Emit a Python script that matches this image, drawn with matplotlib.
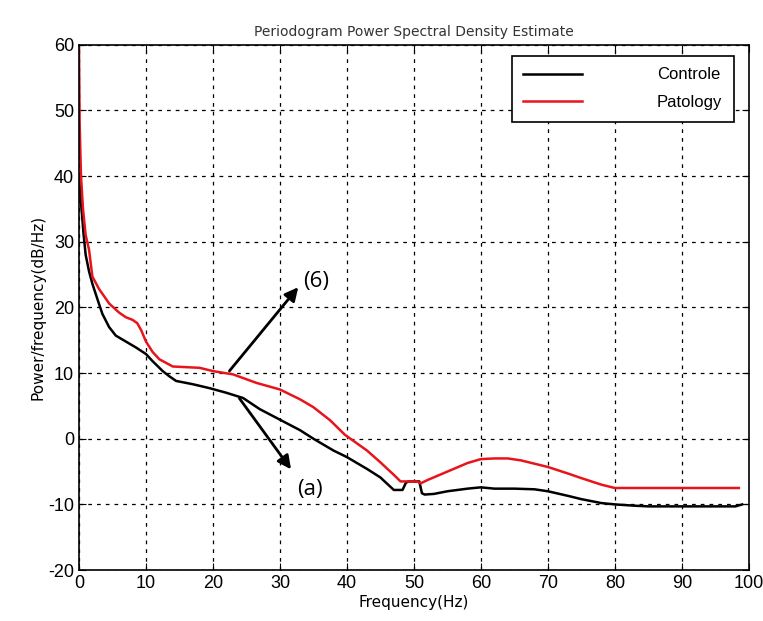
import numpy as np
import matplotlib
matplotlib.use("Agg")

import matplotlib.pyplot as plt

plt.rcParams['axes.unicode_minus'] = False

# Controle (black) curve
freq_ctrl = [0, 0.3, 0.7, 1, 1.5, 2, 3, 3.5, 4.5, 5.5, 7, 8.5, 10, 11, 12.5,
             13.5, 14.5, 17, 19.5, 22, 24.5, 27, 30, 33, 35, 38, 40, 43, 45,
             47, 48.3, 48.8, 49.2, 50.8, 51.2, 51.6, 53, 55, 58, 60, 62, 65,
             68, 70, 73, 75, 78, 80, 83, 85, 90, 95, 98, 99]
psd_ctrl = [40, 36, 31, 28, 25.5, 23.6, 20.5, 19, 17, 15.7, 14.8, 13.9, 12.9,
            11.8, 10.3, 9.5, 8.8, 8.3, 7.7, 7, 6.2, 4.5, 2.9, 1.3, 0, -1.8,
            -2.8, -4.6, -5.9, -7.8, -7.8, -6.7, -6.5, -6.5, -8.3, -8.5, -8.4,
            -8, -7.6, -7.4, -7.6, -7.6, -7.7, -8, -8.7, -9.2, -9.8, -10,
            -10.2, -10.3, -10.3, -10.3, -10.3, -10]

# Patology (red) curve
freq_pat = [0, 0.1, 0.3, 0.6, 1, 1.5, 2, 3, 4.5, 6, 7, 8, 8.7, 9.3, 10, 11,
            12, 14, 18, 20, 23, 26.5, 30, 33, 35, 37.5, 39.7, 43, 45, 47, 48,
            50.5, 51, 52, 55, 58, 60, 62, 64, 66, 68, 70, 73, 75, 78, 80, 90,
            98.5]
psd_pat = [60, 48, 40, 35, 31, 28.8, 24.7, 22.8, 20.6, 19.2, 18.5, 18.1,
           17.6, 16.5, 14.8, 13.2, 12.1, 11, 10.8, 10.3, 9.8, 8.5, 7.5, 6,
           4.8, 2.8, 0.6, -1.8, -3.6, -5.5, -6.5, -6.5, -6.8, -6.3, -5, -3.7,
           -3.1, -3, -3, -3.3, -3.8, -4.3, -5.3, -6, -7, -7.5, -7.5, -7.5]

xticks = np.arange(0, 101, 10)
yticks = np.arange(-20, 61, 10)

fig = plt.figure(figsize=(7.63, 6.21), dpi=100)
ax = fig.add_axes([0.1035, 0.082, 0.878, 0.846])

ax.plot(freq_ctrl, psd_ctrl, color='black', lw=1.8, label='Controle')
ax.plot(freq_pat, psd_pat, color='#e8141c', lw=1.8, label='Patology')

ax.set_xlim(0, 100)
ax.set_ylim(-20, 60)
ax.set_xticks(xticks)
ax.set_yticks(yticks)
ax.grid(True, color='black', linestyle=(0, (3, 4)), lw=0.9)
ax.tick_params(direction='in', top=True, right=True, labelsize=13, length=5)
for lab in ax.get_xticklabels() + ax.get_yticklabels():
    lab.set_family('Liberation Sans')
for s in ax.spines.values():
    s.set_linewidth(1.2)

ax.set_title('Periodogram Power Spectral Density Estimate', fontsize=10,
             color='#333333', pad=6)
ax.set_xlabel('Frequency(Hz)', fontsize=11, labelpad=2)
ax.set_ylabel('Power/frequency(dB/Hz)', fontsize=11, labelpad=2)

leg = ax.legend(loc='upper right', handlelength=3.5, handletextpad=4.5,
                fancybox=False, edgecolor='black', framealpha=1,
                borderpad=0.7, labelspacing=0.75,
                bbox_to_anchor=(0.99, 0.995),
                prop={'family': 'Liberation Sans', 'size': 12})
leg.get_frame().set_linewidth(1.2)

# arrows with labels
ax.annotate('', xy=(33, 23.4), xytext=(22.2, 10),
            arrowprops=dict(arrowstyle='-|>', color='black', lw=2,
                            mutation_scale=20))
ax.text(33.4, 24, '(6)', fontsize=16, family='Open Sans', va='center')
ax.annotate('', xy=(31.9, -5.0), xytext=(23.7, 6.5),
            arrowprops=dict(arrowstyle='-|>', color='black', lw=2,
                            mutation_scale=20))
ax.text(32.5, -7.8, '(a)', fontsize=16, family='Open Sans', va='center')

fig.savefig('out.png', dpi=100)
